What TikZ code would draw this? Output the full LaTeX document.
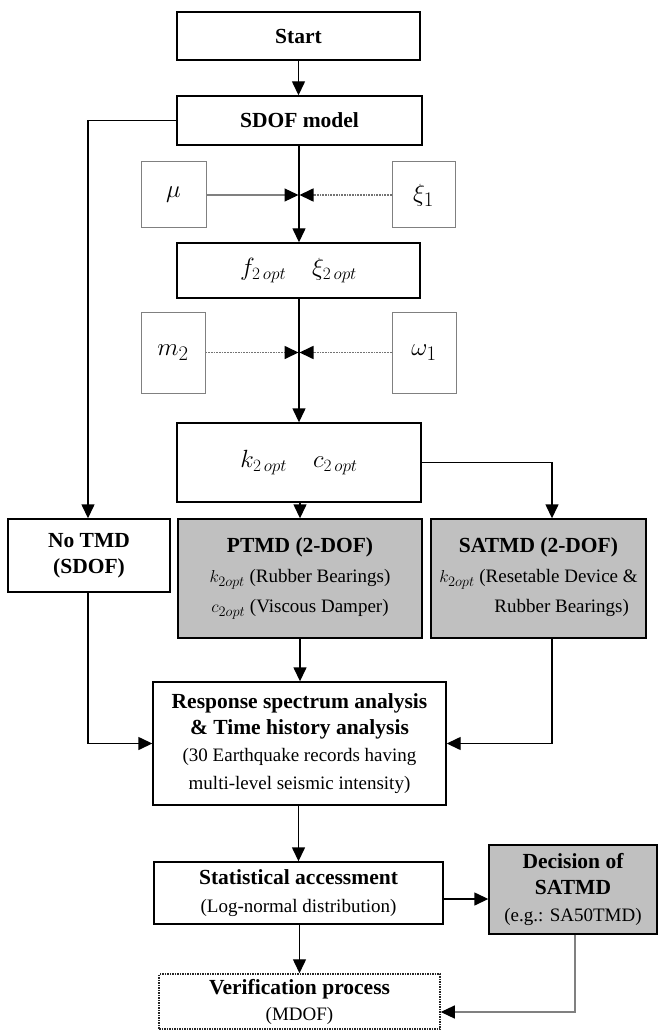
\documentclass[tikz,border=0pt]{standalone}
\usepackage{fontspec}
\setmainfont{Liberation Serif}
\usetikzlibrary{arrows.meta}
\definecolor{boxgray}{RGB}{192,192,192}
\definecolor{linegray}{RGB}{128,128,128}
\newcommand{\bt}{\fontsize{21.5}{26}\selectfont\bfseries}
\newcommand{\rt}{\fontsize{19}{26}\selectfont\mdseries}
\begin{document}
\begin{tikzpicture}[x=1pt,y=-1pt,
  box/.style={draw=black, line width=1.4pt, fill=white, align=center, inner sep=2pt},
  graybox/.style={box, fill=boxgray},
  parbox/.style={draw=linegray, line width=1pt, fill=white, inner sep=0pt, font=\fontsize{29}{29}\selectfont},
  dotbox/.style={draw=black!85, line width=1.5pt, densely dotted, align=center, inner sep=2pt},
  conn/.style={line width=1.4pt, -{Triangle[length=14pt,width=13pt]}},
  gconn/.style={line width=1.2pt, draw=linegray, -{Triangle[length=14pt,width=13pt,color=black]}},
  dconn/.style={gconn, line width=1.7pt, densely dotted, draw=black!55},
]
\useasboundingbox (0,0) rectangle (659,1032);

% main column
\node[box, font=\bt, minimum width=243pt, minimum height=48pt] (start) at (298.5,36) {Start};
\node[box, font=\bt, minimum width=245pt, minimum height=49pt] (sdof) at (299.5,120.5) {SDOF model};
\node[parbox, minimum width=65pt, minimum height=66pt] (mu) at (173.5,195) {$\mu$};
\node[parbox, minimum width=63pt, minimum height=66pt] (xi) at (423.5,195) {$\xi_1$};
\node[box, minimum width=243pt, minimum height=55pt, font=\fontsize{26}{26}\selectfont] (f) at (298.5,270.5) {$f_{2\,opt}\quad \xi_{2\,opt}$};
\node[parbox, minimum width=64pt, minimum height=81pt] (m2) at (173,352.5) {$m_2$};
\node[parbox, minimum width=64pt, minimum height=81pt] (om) at (424,352.5) {$\omega_1$};
\node[box, minimum width=244pt, minimum height=79pt, font=\fontsize{26}{26}\selectfont] (k) at (299,462.5) {$k_{2\,opt}\quad c_{2\,opt}$};

\node[box, font=\bt, minimum width=162pt, minimum height=73pt] (notmd) at (89,555.5) {No TMD\\(SDOF)};
\node[graybox, font=\fontsize{19}{30}\selectfont, minimum width=244pt, minimum height=119pt] (ptmd) at (300,578.5)
  {\textbf{\fontsize{21.5}{30}\selectfont PTMD (2-DOF)}\\
   $k_{2opt}$ (Rubber Bearings)\\
   $c_{2opt}$ (Viscous Damper)};
\node[graybox, font=\fontsize{19}{30}\selectfont, minimum width=215pt, minimum height=119pt] (satmd) at (538.5,578.5)
  {\textbf{\fontsize{21.5}{30}\selectfont SATMD (2-DOF)}\\
   $k_{2opt}$ (Resetable Device \&\\
   \phantom{$k_{2opt}$ (}Rubber Bearings)};

\node[box, font=\bt, minimum width=293pt, minimum height=123pt] (resp) at (299.5,743.5)
  {Response spectrum analysis\\
   \& Time history analysis\\[1pt]
   {\rt (30 Earthquake records having}\\[2pt]
   {\rt multi-level seismic intensity)}};
\node[box, font=\bt, minimum width=289pt, minimum height=62pt] (stat) at (298.5,893)
  {Statistical accessment\\[2pt]
   {\rt (Log-normal distribution)}};
\node[graybox, font=\bt, minimum width=168pt, minimum height=89pt] (dec) at (573,889.5)
  {Decision of\\
   SATMD\\[1pt]
   {\rt (e.g.: SA50TMD)}};
\node[dotbox, font=\bt, minimum width=281pt, minimum height=55pt] (ver) at (299.5,1001.5)
  {Verification process\\
   {\rt (MDOF)}};

% junctions
\coordinate (j1) at (299,195);
\coordinate (j2) at (299,352.5);
\coordinate (lcol) at (88,120.5);
\coordinate (rcol) at (552,462.5);
\coordinate (dcor) at (575,1012);

% connectors
\draw[conn] (start.south) -- (start.south |- sdof.north);
\draw[conn] (sdof.south -| j1) -- (j1 |- f.north);
\draw[gconn] (mu.east) -- ([xshift=-0.5pt]j1);
\draw[dconn] (xi.west) -- ([xshift=0.5pt]j1);
\draw[conn] (f.south -| j2) -- (j2 |- k.north);
\draw[dconn] (m2.east) -- ([xshift=-0.5pt]j2);
\draw[dconn] (om.west) -- ([xshift=0.5pt]j2);

\draw[conn] (sdof.west) -- (lcol) -- (lcol |- notmd.north);
\draw[conn] (k.south -| ptmd.north) -- (ptmd.north);
\draw[conn] (k.east) -- (rcol) -- (rcol |- satmd.north);

\draw[conn] (notmd.south -| lcol) -- (lcol |- resp.west) -- (resp.west);
\draw[conn] (ptmd.south) -- (ptmd.south |- resp.north);
\draw[conn] (satmd.south -| rcol) -- (rcol |- resp.east) -- (resp.east);

\draw[conn] (resp.south -| stat.north) -- (stat.north);
\draw[conn] ([yshift=-6pt]stat.east) -- ([yshift=-6pt]stat.east -| dec.west);
\draw[conn] (stat.south -| ver.north) -- (ver.north);
\draw[gconn] (dec.south -| dcor) -- (dcor) -- (dcor -| ver.east);
\end{tikzpicture}
\end{document}
